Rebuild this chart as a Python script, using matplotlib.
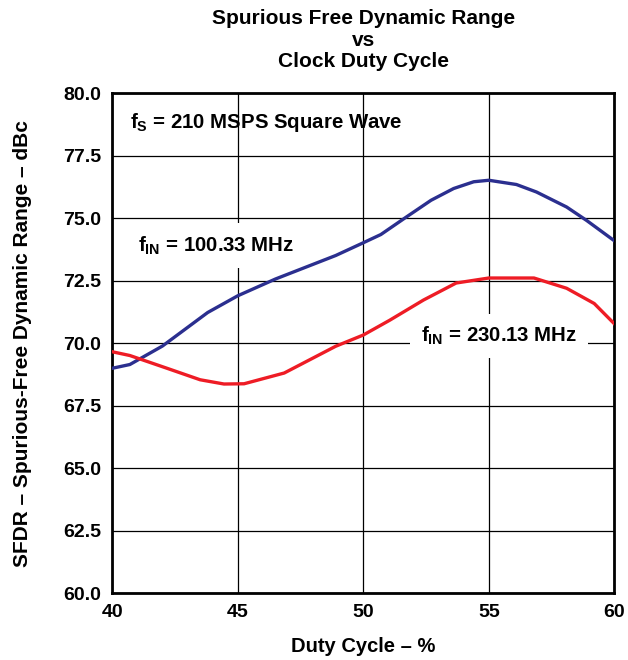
import numpy as np
import matplotlib.pyplot as plt

plt.rcParams['font.family'] = ['Liberation Sans', 'DejaVu Sans']
plt.rcParams['font.weight'] = 'bold'
plt.rcParams['mathtext.fontset'] = 'custom'
plt.rcParams['mathtext.bf'] = 'Liberation Sans:bold'

# Duty cycle (%) and SFDR (dBc)
duty_100 = [40.0, 40.7, 42.0, 43.8, 45.0, 46.5, 48.9, 50.0, 50.7, 51.7,
            52.7, 53.6, 54.4, 55.0, 56.1, 56.9, 58.1, 58.9, 60.0]
sfdr_100 = [69.0, 69.15, 69.89, 71.23, 71.9, 72.57, 73.51, 74.02, 74.35, 75.04,
            75.72, 76.19, 76.46, 76.52, 76.35, 76.05, 75.45, 74.91, 74.1]

duty_230 = [40.0, 40.7, 42.15, 43.5, 44.45, 45.25, 46.85, 48.9, 50.0, 51.05,
            52.4, 53.7, 55.0, 56.8, 58.1, 59.2, 60.0]
sfdr_230 = [69.66, 69.51, 69.01, 68.54, 68.37, 68.38, 68.81, 69.88, 70.33, 70.92,
            71.73, 72.41, 72.61, 72.61, 72.2, 71.59, 70.78]

x_ticks = [40, 45, 50, 55, 60]
y_ticks = [60.0, 62.5, 65.0, 67.5, 70.0, 72.5, 75.0, 77.5, 80.0]

fig = plt.figure(figsize=(6.28, 6.6), dpi=100)
ax = fig.add_axes([0.1788, 0.1011, 0.7994, 0.7576])

ax.plot(duty_100, sfdr_100, color='#2b2f8f', linewidth=2.4, zorder=3)
ax.plot(duty_230, sfdr_230, color='#ee1c25', linewidth=2.4, zorder=3)

ax.set_xlim(40, 60)
ax.set_ylim(60, 80)
ax.set_xticks(x_ticks)
ax.set_yticks(y_ticks)
ax.set_xticklabels([str(t) for t in x_ticks])
ax.set_yticklabels([f"{t:.1f}" for t in y_ticks])
ax.tick_params(length=0, labelsize=14, pad=8)
for lab in ax.get_xticklabels() + ax.get_yticklabels():
    lab.set_fontweight('bold')
ax.grid(True, color='black', linewidth=0.9)
ax.set_axisbelow(True)
for s in ax.spines.values():
    s.set_linewidth(2)

ax.set_xlabel('Duty Cycle – %', fontsize=14.5, fontweight='bold')
ax.xaxis.set_label_coords(0.5, -0.088)
ax.set_ylabel('SFDR – Spurious-Free Dynamic Range – dBc', fontsize=15,
              fontweight='bold')
ax.yaxis.set_label_coords(-0.16, 0.5)
ax.set_title('Spurious Free Dynamic Range\nvs\nClock Duty Cycle',
             fontsize=15, fontweight='bold', linespacing=1.15, pad=19)

ax.text(40.69, 78.63, r'f$_\mathbf{S}$ = 210 MSPS Square Wave', fontsize=14.7,
        fontweight='bold', va='baseline', ha='left', zorder=4)
ax.text(41.04, 73.67, r'f$_\mathbf{IN}$ = 100.33 MHz', fontsize=14.7,
        fontweight='bold', va='baseline', ha='left', zorder=2.5,
        bbox=dict(fc='white', ec='none', pad=8))
ax.text(52.28, 70.05, r'f$_\mathbf{IN}$ = 230.13 MHz', fontsize=14.7,
        fontweight='bold', va='baseline', ha='left', zorder=2.5,
        bbox=dict(fc='white', ec='none', pad=8))

fig.savefig('out.png', dpi=100)
